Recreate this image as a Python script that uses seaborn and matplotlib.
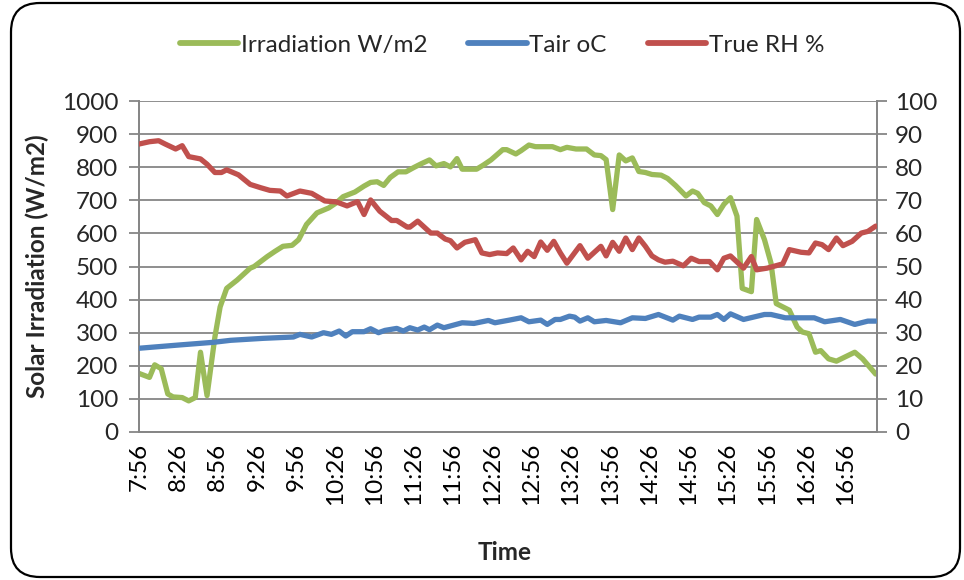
import matplotlib
matplotlib.use("Agg")
import matplotlib.pyplot as plt
import seaborn as sns
import numpy as np
import pandas as pd
from matplotlib.patches import FancyBboxPatch
from matplotlib.lines import Line2D

# ---------------- data (minutes after 7:56) ----------------
irr_t = [0, 8, 12, 17, 22, 26, 33, 38, 43, 47, 52, 58, 62, 67, 75, 85, 88, 98, 104, 110,
         117, 122, 128, 136, 145, 151, 156, 165, 172, 177, 182, 187, 192, 198, 204, 210,
         216, 222, 227, 233, 238, 243, 247, 258, 263, 269, 278, 281, 288, 292, 298, 303,
         316, 322, 327, 334, 342, 348, 353, 357, 362, 367, 372, 377, 382, 387, 392, 399,
         404, 410, 418, 423, 427, 432, 437, 442, 447, 452, 457, 461, 468, 472, 478, 483,
         487, 497, 503, 507, 512, 517, 521, 527, 533, 547, 553, 563]
irr_val = [177, 165, 203, 191, 115, 106, 104, 94, 104, 241, 110, 287, 378, 434, 459, 495, 500, 530, 546, 561,
           564, 581, 627, 662, 677, 693, 711, 725, 743, 754, 756, 745, 769, 786, 786, 799,
           811, 822, 804, 811, 801, 826, 794, 794, 806, 822, 853, 853, 840, 850, 867, 862,
           862, 853, 860, 855, 855, 837, 835, 823, 672, 837, 819, 828, 787, 784, 778, 776,
           766, 745, 713, 728, 721, 693, 683, 657, 688, 708, 652, 434, 424, 642, 581, 510,
           388, 368, 317, 302, 297, 241, 246, 221, 214, 241, 221, 175]

rh_t = [0, 8, 15, 20, 28, 33, 38, 47, 52, 58, 63, 67, 76, 85, 93, 100, 108, 113, 123, 132,
        142, 151, 159, 167, 172, 177, 184, 193, 197, 205, 207, 213, 223, 228, 234, 238,
        243, 249, 257, 262, 268, 274, 281, 286, 292, 297, 302, 307, 312, 317, 322, 327,
        337, 343, 353, 357, 362, 367, 372, 377, 382, 387, 392, 397, 402, 408, 416, 422,
        428, 436, 442, 447, 452, 462, 468, 472, 480, 492, 497, 506, 512, 517, 522, 527,
        533, 538, 545, 552, 557, 563]
rh_val = [87.0, 87.7, 88.0, 87.0, 85.5, 86.5, 83.2, 82.5, 80.9, 78.4, 78.4, 79.2, 77.7, 74.8, 73.8, 73.0, 72.8, 71.3, 72.8, 72.1,
          69.8, 69.5, 68.3, 69.6, 65.7, 70.1, 66.7, 63.9, 63.9, 61.9, 61.9, 63.7, 60.1, 60.1, 58.3, 57.8,
          55.6, 57.3, 58.1, 54.1, 53.6, 54.1, 53.9, 55.6, 52.0, 54.6, 53.0, 57.4, 54.9, 57.6, 54.1, 51.0,
          56.3, 52.5, 56.1, 53.2, 57.3, 54.6, 58.6, 55.1, 58.6, 56.1, 53.2, 52.0, 51.3, 51.6, 50.2, 52.5,
          51.5, 51.5, 49.0, 52.5, 53.2, 49.5, 53.0, 49.0, 49.5, 50.8, 55.1, 54.3, 54.1, 57.1, 56.6, 55.1,
          58.6, 56.3, 57.6, 60.1, 60.6, 62.2]

tair_t = [0, 31, 57, 70, 95, 118, 123, 132, 141, 147, 153, 158, 163, 172, 177, 183, 188, 197, 202, 207,
          213, 218, 222, 228, 233, 247, 256, 267, 272, 283, 292, 298, 307, 312, 318, 322, 329, 333,
          337, 343, 348, 357, 368, 377, 387, 397, 408, 413, 423, 428, 437, 442, 447, 452, 462, 478,
          483, 494, 516, 524, 536, 547, 557, 563]
tair_val = [25.3, 26.3, 27.1, 27.7, 28.3, 28.7, 29.5, 28.7, 30.0, 29.5, 30.5, 29.0, 30.3, 30.3, 31.2, 30.0, 30.7, 31.3, 30.5, 31.5,
            30.8, 31.7, 30.9, 32.3, 31.5, 33.0, 32.8, 33.7, 33.0, 33.8, 34.5, 33.3, 33.8, 32.5, 34.0, 34.0, 35.0, 34.7,
            33.5, 34.5, 33.3, 33.7, 33.0, 34.5, 34.3, 35.5, 33.8, 35.0, 34.0, 34.7, 34.7, 35.5, 34.0, 35.7, 34.0, 35.5,
            35.5, 34.5, 34.5, 33.3, 34.0, 32.5, 33.5, 33.5]

tick_labels = ["7:56", "8:26", "8:56", "9:26", "9:56", "10:26", "10:56", "11:26", "11:56", "12:26",
               "12:56", "13:26", "13:56", "14:26", "14:56", "15:26", "15:56", "16:26", "16:56"]
series_names = ["Irradiation W/m2", "Tair oC", "True RH %"]

assert len(irr_t) == len(irr_val), (len(irr_t), len(irr_val))
assert len(rh_t) == len(rh_val), (len(rh_t), len(rh_val))
assert len(tair_t) == len(tair_val), (len(tair_t), len(tair_val))

# ---------------- style ----------------
sns.set_style("white")
plt.rcParams['font.family'] = ['Lato', 'DejaVu Sans']
FS = 17.5
GREEN = "#9BBB59"
BLUE = "#4F81BD"
RED = "#C0504D"
GRID = "#868686"

fig = plt.figure(figsize=(9.64, 5.80), dpi=100)
ax = fig.add_axes([139 / 964, 1 - 432 / 580, (877 - 139) / 964, (432 - 101) / 580])
ax2 = ax.twinx()

df_irr = pd.DataFrame({"t": irr_t, "v": irr_val})
df_rh = pd.DataFrame({"t": rh_t, "v": rh_val})
df_ta = pd.DataFrame({"t": tair_t, "v": tair_val})

LW = 3.8
sns.lineplot(data=df_irr, x="t", y="v", ax=ax, color=GREEN, lw=LW, zorder=5,
             solid_joinstyle="round", solid_capstyle="round")
sns.lineplot(data=df_ta, x="t", y="v", ax=ax2, color=BLUE, lw=LW, zorder=5,
             solid_joinstyle="round", solid_capstyle="round")
sns.lineplot(data=df_rh, x="t", y="v", ax=ax2, color=RED, lw=LW, zorder=5,
             solid_joinstyle="round", solid_capstyle="round")

ax.set_xlim(0, 564)
ax.set_ylim(0, 1000)
ax2.set_ylim(0, 100)
ax.set_yticks(np.arange(0, 1001, 100))
ax2.set_yticks(np.arange(0, 101, 10))
ax.yaxis.grid(True, color=GRID, lw=1.3)
ax.set_axisbelow(True)

ax.set_xticks(np.arange(0, 541, 30))
ax.set_xticklabels(tick_labels, rotation=90, fontsize=FS, va="top")
ax.set_xticks(np.arange(0, 561, 20), minor=True)
ax.tick_params(axis="x", which="major", length=0, pad=8, colors="black")
ax.tick_params(axis="x", which="minor", length=6, width=1.3, color=GRID, direction="out")
ax.tick_params(axis="y", which="major", length=7, width=1.3, color=GRID, labelsize=FS, pad=8,
               direction="out", left=True)
ax2.tick_params(axis="y", which="major", length=7, width=1.3, color=GRID, labelsize=FS, pad=6,
                direction="out", right=True)

for a in (ax, ax2):
    for s in ["left", "right", "bottom"]:
        a.spines[s].set_color(GRID)
        a.spines[s].set_linewidth(1.3)
    a.spines["top"].set_visible(False)
    a.set_xlabel("")
    a.set_ylabel("")

ax.set_ylabel("Solar Irradiation (W/m2)", fontsize=FS, fontweight="bold", labelpad=9)
fig.text(505 / 964, 1 - 553 / 580, "Time", fontsize=FS, fontweight="bold", ha="center", va="center")

handles = [Line2D([0], [0], color=c, lw=LW + 0.4, solid_capstyle="round") for c in (GREEN, BLUE, RED)]
fig.legend(handles, series_names, loc="center", bbox_to_anchor=(502 / 964, 1 - 45 / 580), ncol=3,
           frameon=False, fontsize=FS, handlelength=2.4, handletextpad=0.1, columnspacing=1.7)

border = FancyBboxPatch((11 / 964, 3 / 580), (960 - 11) / 964, 574 / 580,
                        boxstyle="round,pad=0,rounding_size=0.03", transform=fig.transFigure,
                        mutation_aspect=964 / 580, fill=False, ec="black", lw=1.6, clip_on=False)
fig.patches.append(border)

fig.savefig("out.png", dpi=100)
